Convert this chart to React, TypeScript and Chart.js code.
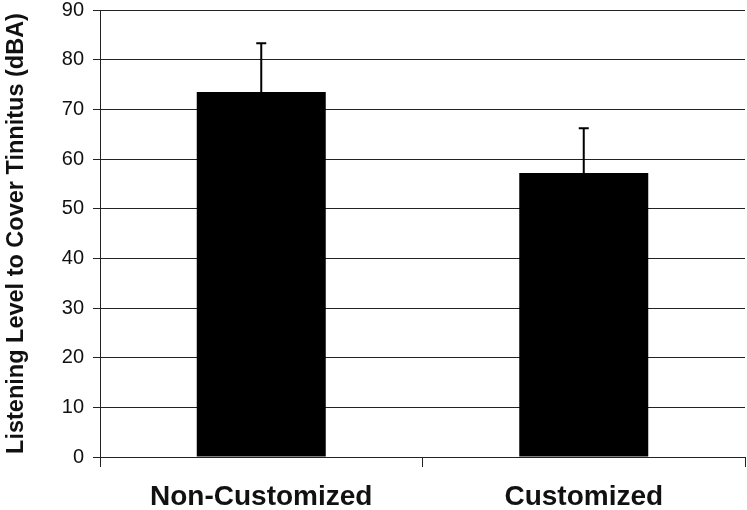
import React, { useEffect, useRef } from "react";
import { Chart, registerables } from "chart.js";

Chart.register(...registerables);

const categories = ["Non-Customized", "Customized"];
const meanValues = [73.5, 57.2];
const errorValues = [9.8, 9.0];
const yTicks = [0, 10, 20, 30, 40, 50, 60, 70, 80, 90];
const yTitle = "Listening Level to Cover Tinnitus (dBA)";

const errorBarPlugin = {
  id: "errorBars",
  afterDatasetsDraw(chart: any) {
    const meta = chart.getDatasetMeta(0);
    const yScale = chart.scales.y;
    const ctx = chart.ctx;
    ctx.save();
    ctx.strokeStyle = "#000";
    ctx.lineWidth = 2;
    meta.data.forEach((bar: any, i: number) => {
      const x = bar.x;
      const yBase = yScale.getPixelForValue(meanValues[i]);
      const yTop = yScale.getPixelForValue(meanValues[i] + errorValues[i]);
      ctx.beginPath();
      ctx.moveTo(x, yBase);
      ctx.lineTo(x, yTop);
      ctx.moveTo(x - 5, yTop);
      ctx.lineTo(x + 5, yTop);
      ctx.stroke();
    });
    ctx.restore();
  },
};

export default function App() {
  const ref = useRef<HTMLCanvasElement | null>(null);
  useEffect(() => {
    document.body.style.margin = "0";
    if (!ref.current) return;
    const chart = new Chart(ref.current, {
      type: "bar",
      data: {
        labels: categories,
        datasets: [
          {
            data: meanValues,
            backgroundColor: "#000",
            borderWidth: 0,
            categoryPercentage: 1,
            barPercentage: 0.4,
          },
        ],
      },
      plugins: [errorBarPlugin],
      options: {
        animation: false,
        responsive: false,
        maintainAspectRatio: false,
        layout: { padding: { top: 10, right: 2, left: 0, bottom: 0 } },
        plugins: { legend: { display: false }, tooltip: { enabled: false } },
        scales: {
          x: {
            offset: true,
            grid: {
              offset: true,
              drawOnChartArea: false,
              drawTicks: true,
              tickLength: 10,
              color: "#222",
            },
            border: { color: "#222", width: 1 },
            ticks: {
              color: "#111",
              padding: 13,
              font: { family: "Liberation Sans, Arial", size: 28, weight: "bold" },
            },
            afterFit(scale: any) {
              scale.height = 53;
            },
          },
          y: {
            min: 0,
            max: 90,
            afterBuildTicks(scale: any) {
              scale.ticks = yTicks.map((v) => ({ value: v }));
            },
            grid: { color: "#222", lineWidth: 1, tickLength: 7 },
            border: { color: "#222", width: 1 },
            ticks: {
              color: "#111",
              padding: 9,
              font: { family: "Liberation Sans, Arial", size: 20, lineHeight: 1 },
            },
            title: {
              display: true,
              text: yTitle,
              color: "#111",
              padding: { top: 2, bottom: 0 },
              font: { family: "Liberation Sans, Arial", size: 23.5, weight: "bold" },
            },
            afterFit(scale: any) {
              scale.width = 100;
              scale.paddingTop = 0;
              scale.paddingBottom = 0;
            },
          },
        },
      },
    });
    return () => chart.destroy();
  }, []);
  return (
    <div style={{ width: 747, height: 510 }}>
      <canvas ref={ref} width={747} height={510} style={{ width: 747, height: 510 }} />
    </div>
  );
}
